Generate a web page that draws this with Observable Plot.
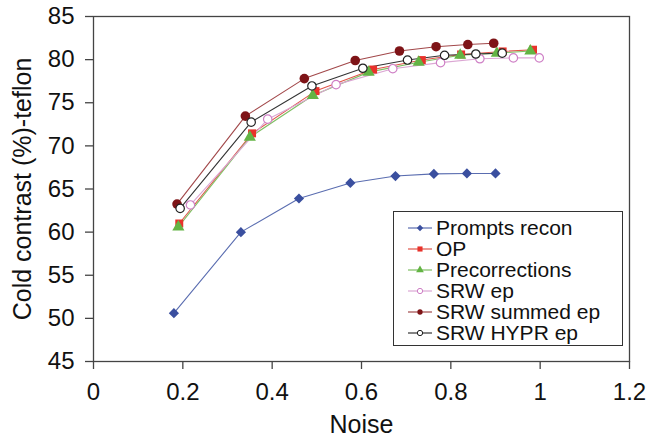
<!DOCTYPE html>
<html>
<head>
<meta charset="utf-8">
<script src="https://cdn.jsdelivr.net/npm/d3@7"></script>
<script src="https://cdn.jsdelivr.net/npm/@observablehq/plot@0.6"></script>
<style>
  html, body { margin: 0; padding: 0; background: #fff; }
  #wrap { position: relative; width: 648px; height: 446px; font-family: "Liberation Sans", Arial, sans-serif; }
  #legend { position: absolute; left: 393px; top: 211px; width: 228px; height: 128px; border: 1.5px solid #333; background: #fff; box-sizing: content-box; padding-top: 5px; }
  .item { display: flex; align-items: center; height: 21px; line-height: 21px; font-size: 21px; color: #111; white-space: nowrap; }
  .item svg { margin-left: 14px; margin-right: 4px; }
</style>
</head>
<body>
<div id="wrap"></div>
<script>
const xLabel = "Noise";
const yLabel = "Cold contrast (%)-teflon";
const xTicks = [0, 0.2, 0.4, 0.6, 0.8, 1, 1.2];
const yTicks = [45, 50, 55, 60, 65, 70, 75, 80, 85];

const seriesNames = ["Prompts recon", "OP", "Precorrections", "SRW ep", "SRW summed ep", "SRW HYPR ep"];

const promptsX = [0.18, 0.33, 0.46, 0.575, 0.676, 0.762, 0.836, 0.90];
const promptsY = [50.6, 60.0, 63.9, 65.7, 66.5, 66.75, 66.8, 66.8];

const opX = [0.192, 0.355, 0.497, 0.626, 0.735, 0.823, 0.916, 0.984];
const opY = [61.0, 71.45, 76.35, 78.85, 79.95, 80.6, 80.95, 81.15];

const preX = [0.190, 0.350, 0.491, 0.616, 0.728, 0.821, 0.903, 0.978];
const preY = [60.6, 71.0, 75.85, 78.55, 79.7, 80.5, 80.75, 81.0];

const srwX = [0.217, 0.390, 0.543, 0.670, 0.777, 0.865, 0.940, 0.998];
const srwY = [63.15, 73.1, 77.1, 78.95, 79.65, 80.1, 80.2, 80.2];

const summedX = [0.187, 0.340, 0.472, 0.586, 0.685, 0.767, 0.838, 0.896];
const summedY = [63.25, 73.45, 77.8, 79.9, 81.0, 81.5, 81.75, 81.9];

const hyprX = [0.194, 0.353, 0.489, 0.603, 0.703, 0.786, 0.856, 0.915];
const hyprY = [62.75, 72.75, 76.95, 79.0, 79.95, 80.5, 80.65, 80.75];

const styles = [
  {name: seriesNames[0], xs: promptsX, ys: promptsY, line: "#5a6db0", symbol: "diamond2", fill: "#3a4f9f", stroke: "none", r: 4.6},
  {name: seriesNames[1], xs: opX, ys: opY, line: "#e0554a", symbol: "square", fill: "#e8322b", stroke: "none", r: 4.5},
  {name: seriesNames[2], xs: preX, ys: preY, line: "#7fbf63", symbol: "triangle", fill: "#63b444", stroke: "none", r: 4.5},
  {name: seriesNames[3], xs: srwX, ys: srwY, line: "#dba6d3", symbol: "circle", fill: "#fff", stroke: "#cf80c6", r: 4.2},
  {name: seriesNames[4], xs: summedX, ys: summedY, line: "#a2484a", symbol: "circle", fill: "#7e1417", stroke: "none", r: 4.8},
  {name: seriesNames[5], xs: hyprX, ys: hyprY, line: "#333333", symbol: "circle", fill: "#fff", stroke: "#222", r: 4.2}
];

const rows = styles.flatMap(s => s.xs.map((x, i) => ({series: s.name, x, y: s.ys[i]})));

const marks = [];
for (const s of styles) {
  const d = rows.filter(r => r.series === s.name);
  marks.push(Plot.line(d, {x: "x", y: "y", stroke: s.line, strokeWidth: 1.1}));
}
for (const s of styles) {
  const d = rows.filter(r => r.series === s.name);
  marks.push(Plot.dot(d, {x: "x", y: "y", symbol: () => s.symbol, fill: s.fill, stroke: s.stroke, strokeWidth: 1.2, r: s.r}));
}

const plot = Plot.plot({
  width: 648,
  height: 446,
  marginLeft: 93,
  marginRight: 19,
  marginTop: 16,
  marginBottom: 85,
  style: {fontFamily: "Liberation Sans, Arial, sans-serif", fontSize: "24px", color: "#111", background: "#fff"},
  x: {domain: [0, 1.2]},
  y: {domain: [45, 85]},
  symbol: {type: "identity"},
  marks: [
    Plot.frame({stroke: "#444", strokeWidth: 1.3}),
    Plot.axisX(xTicks, {tickSize: 8, tickPadding: 13, tickFormat: d => String(d), label: null, stroke: "#444", strokeWidth: 1.3, fontSize: 24}),
    Plot.axisY(yTicks, {tickSize: 8, tickPadding: 11, tickFormat: d => String(d), label: null, stroke: "#444", strokeWidth: 1.3, fontSize: 24}),
    ...marks,
    Plot.text([xLabel], {frameAnchor: "bottom", dy: 71, fontSize: 25, fill: "#111", textAnchor: "middle"}),
    Plot.text([yLabel], {frameAnchor: "left", dx: -71, rotate: -90, fontSize: 25, fill: "#111", textAnchor: "middle"})
  ]
});

const wrap = document.getElementById("wrap");
wrap.appendChild(plot);

const legend = document.createElement("div");
legend.id = "legend";
for (const s of styles) {
  const item = document.createElement("div");
  item.className = "item";
  const sw = d3.create("svg").attr("width", 24).attr("height", 12);
  sw.append("line").attr("x1", 0).attr("x2", 24).attr("y1", 6).attr("y2", 6).attr("stroke", s.line).attr("stroke-width", 1.2);
  const sym = {diamond2: d3.symbolDiamond2, square: d3.symbolSquare, triangle: d3.symbolTriangle, circle: d3.symbolCircle}[s.symbol];
  const size = s.symbol === "circle" ? 22 : 26;
  sw.append("path").attr("d", d3.symbol(sym, size)()).attr("transform", "translate(12,6)")
    .attr("fill", s.fill).attr("stroke", s.stroke).attr("stroke-width", 1);
  item.appendChild(sw.node());
  const t = document.createElement("span");
  t.textContent = s.name;
  item.appendChild(t);
  legend.appendChild(item);
}
wrap.appendChild(legend);
</script>
</body>
</html>
